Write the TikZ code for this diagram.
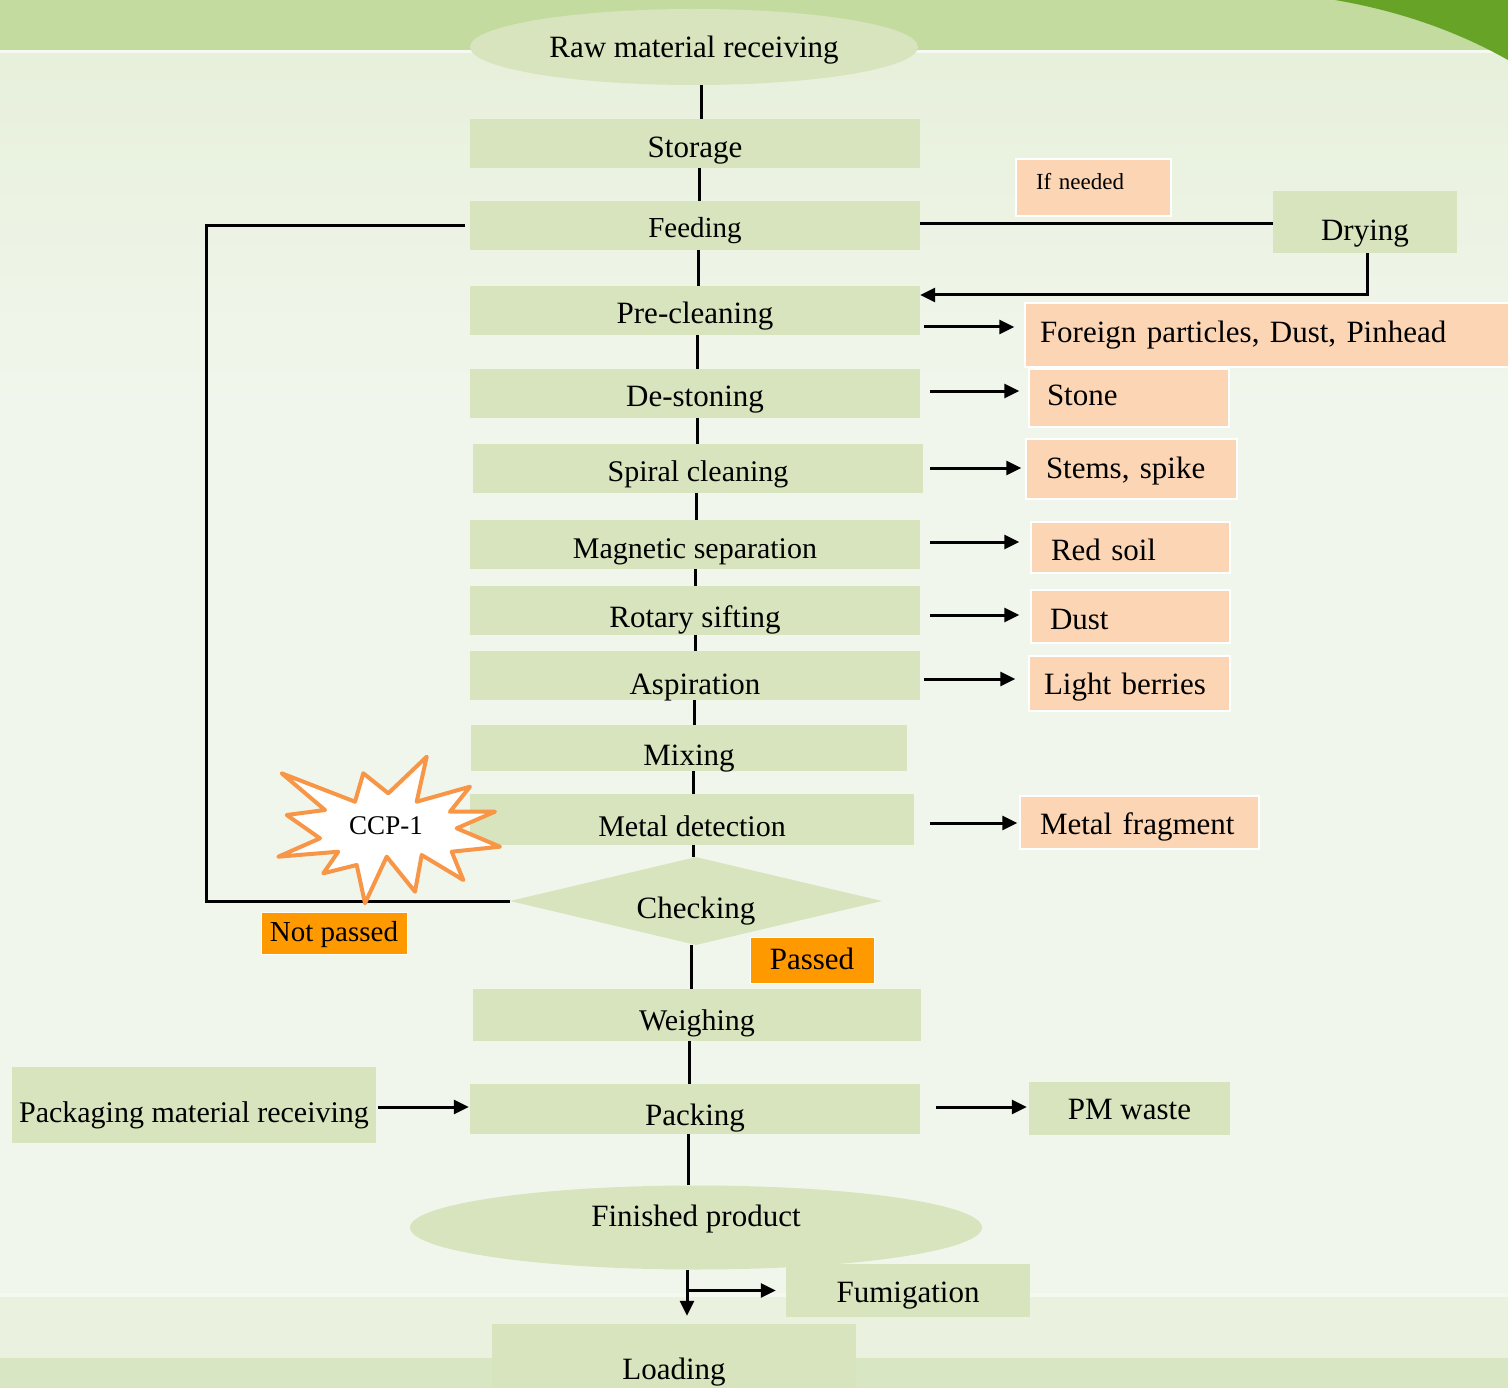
\documentclass[tikz,border=0pt]{standalone}
\usepackage{fontspec}
\setmainfont{Liberation Serif}
\usetikzlibrary{shapes.geometric,arrows.meta}
\definecolor{boxg}{HTML}{D7E4BD}
\definecolor{peach}{HTML}{FCD5B5}
\definecolor{orng}{HTML}{FF9900}
\definecolor{starc}{HTML}{F79646}
\definecolor{topband}{HTML}{C4DBA0}
\definecolor{bgpale}{HTML}{F1F6EC}
\definecolor{bgtop}{HTML}{E7F0DB}
\definecolor{bgbot}{HTML}{EAF1DF}
\definecolor{bgbot2}{HTML}{D8E6C3}
\definecolor{swoosh}{HTML}{66A326}
\newcommand{\myfs}[1]{\fontsize{#1}{#1}\selectfont}
\begin{document}
\begin{tikzpicture}[x=1pt,y=-1pt,
  gbox/.style={fill=boxg, inner sep=0pt, font=\myfs{31}},
  pbox/.style={fill=peach, draw=white, line width=1.5pt, inner xsep=18pt, inner ysep=0pt, align=left, font=\myfs{31}},
  obox/.style={fill=orng, draw=white, line width=1pt, inner sep=0pt},
  th/.style 2 args={text height=#1pt, text depth=#2pt},
  ln/.style={line width=3pt, black},
  arr/.style={ln, -{Triangle[length=15pt,width=14pt]}},
]
\useasboundingbox (0,0) rectangle (1508,1388);
\clip (0,0) rectangle (1508,1388);
% background
\fill[bgpale] (0,0) rectangle (1508,1388);
\shade[top color=bgtop, bottom color=bgpale] (0,50) rectangle (1508,400);
\fill[topband] (0,0) rectangle (1508,50);
\fill[white!60!bgtop] (0,50) rectangle (1508,53);
\fill[swoosh] (1335,0) .. controls (1405,12) and (1462,34) .. (1508,60) -- (1508,0) -- cycle;
\fill[bgbot] (0,1296) rectangle (1508,1358);
\fill[white!50!bgbot] (0,1293) rectangle (1508,1297);
\fill[bgbot2] (0,1358) rectangle (1508,1388);

% main column
\node[gbox, ellipse, minimum width=448pt, minimum height=76pt, th={20.6}{0}] (raw) at (694,47) {Raw material receiving};
\node[gbox, minimum width=450pt, minimum height=49pt, th={27.6}{0}] (stor) at (695,143.5) {Storage};
\node[gbox, minimum width=450pt, minimum height=49pt, font=\myfs{29}, th={24.2}{0}] (feed) at (695,225.5) {Feeding};
\node[gbox, minimum width=450pt, minimum height=49pt, th={25.6}{0}] (pre) at (695,310.5) {Pre-cleaning};
\node[gbox, minimum width=450pt, minimum height=49pt, th={25.6}{0}] (dest) at (695,393.5) {De-stoning};
\node[gbox, minimum width=450pt, minimum height=49pt, font=\myfs{30}, th={26.9}{0}] (spir) at (698,468.5) {Spiral cleaning};
\node[gbox, minimum width=450pt, minimum height=49pt, font=\myfs{30}, th={28.9}{0}] (magn) at (695,544.5) {Magnetic separation};
\node[gbox, minimum width=450pt, minimum height=49pt, th={33.6}{0}] (rota) at (695,610.5) {Rotary sifting};
\node[gbox, minimum width=450pt, minimum height=49pt, th={37.6}{0}] (aspi) at (695,675.5) {Aspiration};
\node[gbox, minimum width=436pt, minimum height=46pt, th={34.6}{0}] (mix) at (689,748) {Mixing};
\node[gbox, minimum width=444pt, minimum height=51pt, font=\myfs{30}, th={34.9}{0}] (metal) at (692,819.5) {Metal detection};
\node[gbox, diamond, aspect=4.2, minimum width=372pt, minimum height=88pt, th={34.6}{0}] (check) at (696,901) {Checking};
\node[gbox, minimum width=448pt, minimum height=52pt, font=\myfs{30}, th={31.9}{0}] (weigh) at (697,1015) {Weighing};
\node[gbox, minimum width=450pt, minimum height=50pt, th={33.6}{0}] (pack) at (695,1109) {Packing};
\node[gbox, ellipse, minimum width=572pt, minimum height=84pt, th={20.6}{22}] (fin) at (696,1227.5) {Finished product};
\node[gbox, minimum width=244pt, minimum height=53pt, th={23.6}{0}] (fumi) at (908,1290.5) {Fumigation};
\node[gbox, minimum width=364pt, minimum height=92pt, th={20.6}{2}] (load) at (674,1370) {Loading};

% side nodes
\node[gbox, minimum width=364pt, minimum height=76pt, font=\myfs{30}, th={35.9}{0}] (pmr) at (194,1105) {Packaging material receiving};
\node[gbox, minimum width=201pt, minimum height=53pt, th={21.6}{0}] (pmw) at (1129.5,1108.5) {PM waste};
\node[gbox, minimum width=184pt, minimum height=62pt, th={36.6}{0}] (dry) at (1365,222) {Drying};

\node[pbox, font=\myfs{23}, inner xsep=20pt, text width=115pt, minimum height=57pt, th={15.2}{11}] (ifn) at (1093.5,187.5) {If needed};
\node[pbox, inner xsep=15pt, text width=460pt, minimum height=64pt, th={20.6}{6}] (fp) at (1270,335) {Foreign particles, Dust, Pinhead};
\node[pbox, text width=164pt, minimum height=58pt, th={20.6}{5}] (stone) at (1129,398) {Stone};
\node[pbox, inner xsep=20pt, text width=171pt, minimum height=60pt, th={20.6}{2}] (stems) at (1131.5,469) {Stems, spike};
\node[pbox, inner xsep=20pt, text width=159pt, minimum height=51pt, th={25.6}{0}] (red) at (1130.5,547.5) {Red soil};
\node[pbox, inner xsep=19pt, text width=161pt, minimum height=53pt, th={25.6}{0}] (dust) at (1130.5,616.5) {Dust};
\node[pbox, inner xsep=15pt, text width=171pt, minimum height=55pt, th={21.6}{0}] (light) at (1129.5,683.5) {Light berries};
\node[pbox, inner xsep=20pt, text width=199pt, minimum height=53pt, th={23.6}{0}] (mf) at (1139.5,822.5) {Metal fragment};

\node[obox, minimum width=146pt, minimum height=42pt, font=\myfs{29}, th={19.2}{2}] (np) at (334,933) {Not passed};
\node[obox, minimum width=124pt, minimum height=46pt, font=\myfs{31}, th={20.6}{2}] (pass) at (812,960) {Passed};

% main vertical connectors
\draw[ln] ([xshift=7pt]raw.south) -- ([xshift=6pt]stor.north);
\draw[ln] ([xshift=4pt]stor.south) -- ([xshift=4pt]feed.north);
\draw[ln] ([xshift=3pt]feed.south) -- ([xshift=3pt]pre.north);
\draw[ln] ([xshift=2pt]pre.south) -- ([xshift=2pt]dest.north);
\draw[ln] ([xshift=2pt]dest.south) -- ([xshift=-1pt]spir.north);
\draw[ln] ([xshift=-2pt]spir.south) -- ([xshift=1pt]magn.north);
\draw[ln] (magn.south) -- (rota.north);
\draw[ln] (rota.south) -- (aspi.north);
\draw[ln] ([xshift=-1pt]aspi.south) -- ([xshift=5pt]mix.north);
\draw[ln] ([xshift=4pt]mix.south) -- ([xshift=1pt]metal.north);
\draw[ln] ([xshift=1pt]metal.south) -- ([xshift=-3pt]check.north);
\draw[ln] ([xshift=-5pt]check.south) -- ([xshift=-6pt]weigh.north);
\draw[ln] ([xshift=-8pt]weigh.south) -- ([xshift=-6pt]pack.north);
\draw[ln] ([xshift=-7pt]pack.south) -- ([xshift=-8pt]fin.north);
\draw[arr, shorten >=8pt] ([xshift=-9pt]fin.south) -- ([xshift=13pt]load.north);
\coordinate (fs) at ([xshift=-9pt]fin.south);
\coordinate (br) at (fs |- fumi.west);
\draw[arr, shorten >=10pt] ([xshift=-1.5pt]br) -- (fumi.west);

% loop back from checking to feeding
\coordinate (lc) at (206,901);
\draw[ln, shorten <=5pt] (feed.west) -| (lc) -- (check.west);

% drying branch
\draw[ln] (feed.east |- 0,224) -- (dry.west |- 0,224);
\draw[arr] ([xshift=2pt]dry.south) |- ([yshift=15.5pt]pre.east);

% side outputs
\draw[arr, shorten <=4pt, shorten >=10pt] (pre.east |- 0,327) -- (fp.west |- 0,327);
\draw[arr, shorten <=10pt, shorten >=9pt] (dest.east |- 0,391) -- (stone.west |- 0,391);
\draw[arr, shorten <=7pt, shorten >=4pt] (spir.east |- 0,468) -- (stems.west |- 0,468);
\draw[arr, shorten <=10pt, shorten >=11pt] (magn.east |- 0,542) -- (red.west |- 0,542);
\draw[arr, shorten <=10pt, shorten >=11pt] (rota.east |- 0,615) -- (dust.west |- 0,615);
\draw[arr, shorten <=4pt, shorten >=13pt] (aspi.east |- 0,679) -- (light.west |- 0,679);
\draw[arr, shorten <=16pt, shorten >=2pt] (metal.east |- 0,823) -- (mf.west |- 0,823);
\draw[arr, shorten <=16pt, shorten >=2pt] (pack.east |- 0,1107) -- (pmw.west |- 0,1107);
\draw[arr, shorten <=2pt, shorten >=1pt] (pmr.east |- 0,1107) -- (pack.west |- 0,1107);

% CCP star
\filldraw[fill=white, draw=starc, line width=4pt, line join=round]
  (281.7,773.3) -- (355,801.7) -- (363.3,773.3) -- (388.3,793.3) -- (426.7,756.7) -- (416.7,801.7)
  -- (470,786.7) -- (450,811.7) -- (495,811.7) -- (456.7,828.3) -- (500,846.7) -- (451.7,851.7)
  -- (463.3,880) -- (421.7,855) -- (415,891.7) -- (386.7,856.7) -- (365,903.3) -- (356.7,865)
  -- (323.3,873.3) -- (338.3,851.7) -- (278.3,856.7) -- (320,838.3) -- (286.7,815) -- (325,810) -- cycle;
\node[font=\myfs{27}, inner sep=0pt, th={17.9}{0}] (ccp) at (386,826) {CCP-1};
\end{tikzpicture}
\end{document}
